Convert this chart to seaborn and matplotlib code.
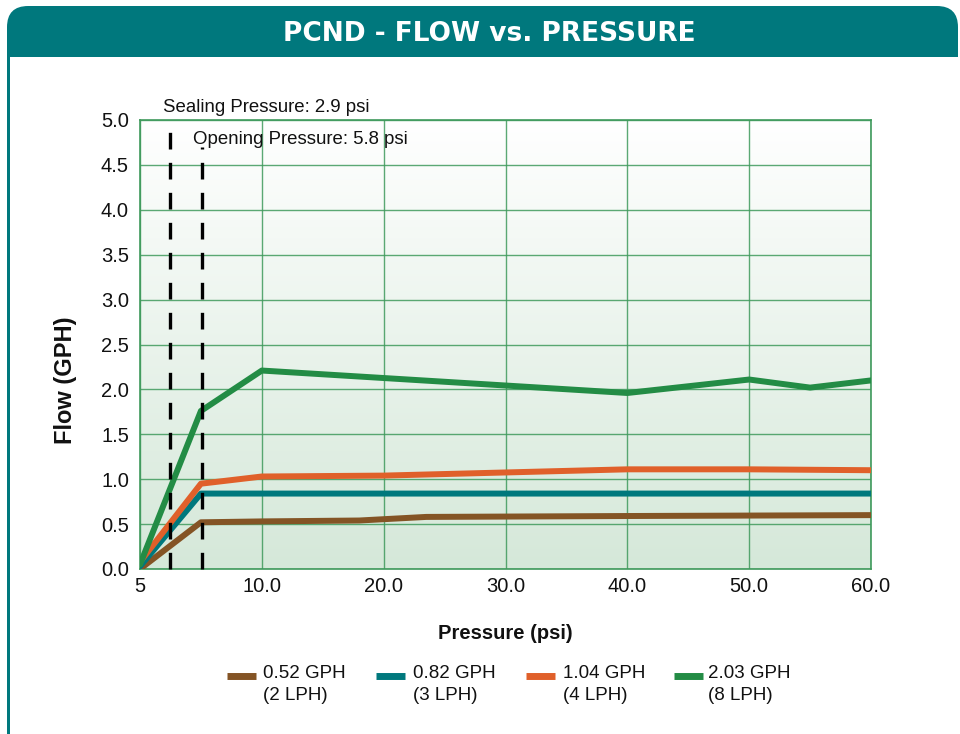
import numpy as np
import pandas as pd
import matplotlib
matplotlib.use("Agg")
import matplotlib.pyplot as plt
import seaborn as sns
from matplotlib.patches import FancyBboxPatch, Rectangle
from matplotlib.lines import Line2D

# ---- data ----
series_names = ["0.52 GPH", "0.82 GPH", "1.04 GPH", "2.03 GPH"]
series_sub = ["(2 LPH)", "(3 LPH)", "(4 LPH)", "(8 LPH)"]
colors = ["#845425", "#00787d", "#e0602a", "#238c45"]

p_052 = [0, 5, 10, 18, 23.5, 40, 60]
f_052 = [0.0, 0.52, 0.53, 0.54, 0.58, 0.59, 0.60]
p_082 = [0, 5, 10, 60]
f_082 = [0.03, 0.84, 0.84, 0.84]
p_104 = [0, 5, 10, 20, 40, 50, 60]
f_104 = [0.08, 0.95, 1.03, 1.04, 1.11, 1.11, 1.10]
p_203 = [0, 5, 10, 40, 50, 55, 60]
f_203 = [0.05, 1.76, 2.21, 1.96, 2.11, 2.02, 2.10]

x_ticks = [0, 10, 20, 30, 40, 50, 60]
x_tick_labels = ["5", "10.0", "20.0", "30.0", "40.0", "50.0", "60.0"]
y_ticks = [0.0, 0.5, 1.0, 1.5, 2.0, 2.5, 3.0, 3.5, 4.0, 4.5, 5.0]
sealing_x = 2.45
opening_x = 5.1

frames = []
for name, px, fy in zip(series_names, [p_052, p_082, p_104, p_203],
                        [f_052, f_082, f_104, f_203]):
    frames.append(pd.DataFrame({"Pressure": px, "Flow": fy, "Series": name}))
df = pd.concat(frames, ignore_index=True)

# ---- figure ----
sns.set_theme(style="white")
plt.rcParams["font.family"] = ["Liberation Sans", "DejaVu Sans"]

W, H = 960, 734
fig = plt.figure(figsize=(W / 100, H / 100), dpi=100)
fig.patch.set_facecolor("white")

teal = "#00787d"
# header band: rounded top corners, square bottom corners
hdr = FancyBboxPatch((7 / W, 1 - 57 / H), 951 / W, 51 / H,
                     boxstyle="round,pad=0,rounding_size=0.022",
                     transform=fig.transFigure, facecolor=teal,
                     edgecolor="none", zorder=0, mutation_aspect=W / H)
fig.patches.append(hdr)
fig.patches.append(Rectangle((7 / W, 1 - 57 / H), 951 / W, 25 / H,
                             transform=fig.transFigure, facecolor=teal,
                             edgecolor="none", zorder=0))
fig.patches.append(Rectangle((7 / W, 0), 3 / W, 1 - 57 / H,
                             transform=fig.transFigure, facecolor=teal,
                             edgecolor="none", zorder=0))
fig.text(489 / W, 1 - 34 / H, "PCND - FLOW vs. PRESSURE", color="white",
         fontsize=19, fontweight="bold", ha="center", va="center",
         family="DejaVu Sans")

ax = fig.add_axes([140 / W, 1 - 569 / H, 731 / W, 449 / H])

# gradient background
grad = np.linspace(0, 1, 256).reshape(-1, 1)
cmap = matplotlib.colors.LinearSegmentedColormap.from_list(
    "bg", ["#d5e8d9", "#ffffff"])
ax.imshow(grad, extent=[0, 60, 0, 5], origin="lower", aspect="auto",
          cmap=cmap, zorder=0)

sns.lineplot(data=df, x="Pressure", y="Flow", hue="Series",
             palette=colors, linewidth=4.3, legend=False, ax=ax,
             estimator=None, sort=False, zorder=3)

ax.set_xlim(0, 60)
ax.set_ylim(0, 5)
ax.set_xticks(x_ticks)
ax.set_xticklabels(x_tick_labels)
ax.set_yticks(y_ticks)
ax.set_yticklabels([f"{v:.1f}" for v in y_ticks])
ax.tick_params(axis="both", length=0, labelsize=14.5, colors="#111111")
ax.tick_params(axis="x", pad=6)
ax.tick_params(axis="y", pad=8)
ax.grid(True, color="#3f9a5c", linewidth=1.0, alpha=0.85, zorder=1)
ax.set_axisbelow(False)
for s in ax.spines.values():
    s.set_color("#3f9a5c")
    s.set_linewidth(1.2)

ax.set_xlabel("Pressure (psi)", fontsize=14.5, fontweight="bold",
              labelpad=20, color="#111111")
ax.set_ylabel("Flow (GPH)", fontsize=17, fontweight="bold",
              color="#111111")
ax.yaxis.set_label_coords(-0.086, 0.42)

# dashed reference lines
ax.plot([sealing_x, sealing_x], [0, 5.0], color="black", linewidth=2.4,
        linestyle=(0, (5, 4)), zorder=4, clip_on=False)
ax.plot([opening_x, opening_x], [0, 4.7], color="black", linewidth=2.4,
        linestyle=(0, (5, 4)), zorder=4, clip_on=False)
fig.text(163 / W, 1 - 107 / H, "Sealing Pressure: 2.9 psi", fontsize=13.4,
         ha="left", va="center", color="#111111")
fig.text(193 / W, 1 - 139 / H, "Opening Pressure: 5.8 psi", fontsize=13.4,
         ha="left", va="center", color="#111111")

# legend (manual, two-line labels)
handle_x = [227, 376, 526, 674]
text_x = [263, 413, 563, 708]
for i in range(4):
    fig.add_artist(Line2D([handle_x[i] / W, (handle_x[i] + 29) / W],
                          [1 - 676 / H, 1 - 676 / H], color=colors[i],
                          linewidth=5, solid_capstyle="butt",
                          transform=fig.transFigure))
    fig.text(text_x[i] / W, 1 - 674 / H, series_names[i], fontsize=13.5,
             ha="left", va="center", color="#111111")
    fig.text(text_x[i] / W, 1 - 696 / H, series_sub[i], fontsize=13.5,
             ha="left", va="center", color="#111111")

fig.savefig("out.png", dpi=100)
